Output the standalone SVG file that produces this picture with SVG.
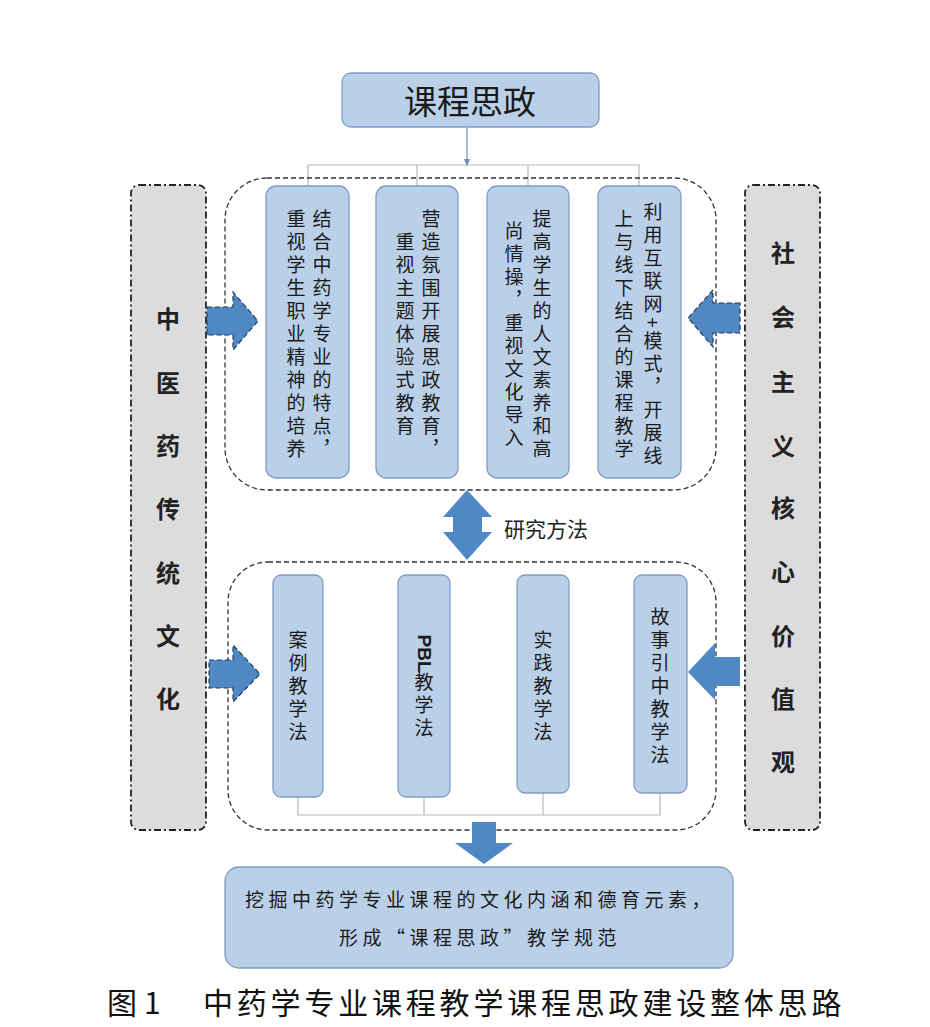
<svg xmlns="http://www.w3.org/2000/svg" width="930" height="1027" viewBox="0 0 930 1027">
<defs>
<style>
.bg{fill:#ffffff}
.blue{fill:#bad0e8;stroke:#7f9cc3;stroke-width:1.3}
.gray{fill:#dcdcdc;stroke:#222;stroke-width:1.8;stroke-dasharray:7 3 2 3}
.cont{fill:none;stroke:#333;stroke-width:1.3;stroke-dasharray:5 3}
.arr{fill:#5088c6}
.arrd{fill:#5088c6;stroke:#2a3a55;stroke-width:1.2;stroke-dasharray:5 3}
.ln{stroke:#b8b8b8;stroke-width:1.2;fill:none}
.vt{font-family:"Noto Sans CJK SC","Noto Sans CJK JP",sans-serif;font-size:19px;fill:#1a1a1a;writing-mode:vertical-rl;letter-spacing:4px;text-anchor:middle;dominant-baseline:central}
.gt{font-family:"Noto Sans CJK SC",sans-serif;font-size:24px;font-weight:bold;fill:#222;text-anchor:middle}
</style>
<marker id="ah" markerWidth="8" markerHeight="8" refX="4" refY="4" orient="auto" markerUnits="userSpaceOnUse">
<path d="M0,1 L8,4 L0,7 Z" fill="#6e8db8"/>
</marker>
</defs>
<rect class="bg" x="0" y="0" width="930" height="1027"/>

<g id="connectors">
<line x1="467" y1="127" x2="467" y2="163" stroke="#6e8db8" stroke-width="1.2" marker-end="url(#ah)"/>
<polyline class="ln" points="308,186 308,165 639,165 639,186"/>
<line class="ln" x1="417" y1="165" x2="417" y2="186"/>
<line class="ln" x1="528" y1="165" x2="528" y2="186"/>
<polyline class="ln" points="298,797 298,815 660,815 660,793"/>
<line class="ln" x1="424" y1="797" x2="424" y2="815"/>
<line class="ln" x1="543" y1="793" x2="543" y2="815"/>
</g>

<g id="top">
<rect class="blue" x="342" y="73" width="257" height="54" rx="9"/>
<text x="470" y="114" font-family="Noto Sans CJK SC,sans-serif" font-size="33" fill="#1a1a1a" text-anchor="middle">课程思政</text>
</g>

<g id="container-upper"><rect class="cont" x="225" y="178" width="491" height="312" rx="42"/></g>
<g id="container-lower"><rect class="cont" x="228" y="562" width="488" height="268" rx="40"/></g>

<g id="left-culture">
<rect class="gray" x="131" y="185" width="75" height="645" rx="8"/>
<text class="gt" x="168" y="328">中</text>
<text class="gt" x="168" y="392">医</text>
<text class="gt" x="168" y="455">药</text>
<text class="gt" x="168" y="518">传</text>
<text class="gt" x="168" y="582">统</text>
<text class="gt" x="168" y="645">文</text>
<text class="gt" x="168" y="708">化</text>
</g>

<g id="right-values">
<rect class="gray" x="745" y="185" width="75" height="645" rx="8"/>
<text class="gt" x="783" y="262">社</text>
<text class="gt" x="783" y="326">会</text>
<text class="gt" x="783" y="391">主</text>
<text class="gt" x="783" y="455">义</text>
<text class="gt" x="783" y="517">核</text>
<text class="gt" x="783" y="581">心</text>
<text class="gt" x="783" y="645">价</text>
<text class="gt" x="783" y="708">值</text>
<text class="gt" x="783" y="771">观</text>
</g>

<g id="u1">
<rect class="blue" x="266" y="186" width="83" height="292" rx="10"/>
<text class="vt" x="322" y="336">结合中药学专业的特点，</text>
<text class="vt" x="296" y="336">重视学生职业精神的培养</text>
</g>
<g id="u2">
<rect class="blue" x="376" y="186" width="82" height="292" rx="10"/>
<text class="vt" x="431" y="336">营造氛围开展思政教育，</text>
<text class="vt" x="405" y="336">重视主题体验式教育</text>
</g>
<g id="u3">
<rect class="blue" x="487" y="186" width="82" height="292" rx="10"/>
<text class="vt" x="542" y="336">提高学生的人文素养和高</text>
<text class="vt" x="514" y="336">尚情操，重视文化导入</text>
</g>
<g id="u4">
<rect class="blue" x="598" y="186" width="83" height="292" rx="10"/>
<text class="vt" x="653" y="336">利用互联网+模式，开展线</text>
<text class="vt" x="624" y="336">上与线下结合的课程教学</text>
</g>

<g id="l1">
<rect class="blue" x="273" y="575" width="50" height="222" rx="8"/>
<text class="vt" x="298" y="688">案例教学法</text>
</g>
<g id="l2">
<rect class="blue" x="398" y="575" width="52" height="222" rx="8"/>
<text class="vt" x="424" y="688"><tspan font-weight="bold" font-family="Liberation Sans,sans-serif" letter-spacing="0">PBL</tspan>教学法</text>
</g>
<g id="l3">
<rect class="blue" x="517" y="575" width="52" height="218" rx="8"/>
<text class="vt" x="543" y="688">实践教学法</text>
</g>
<g id="l4">
<rect class="blue" x="634" y="575" width="53" height="218" rx="8"/>
<text class="vt" x="660" y="688">故事引中教学法</text>
</g>

<g id="arrows">
<polygon class="arrd" points="207,307 233,307 233,292 258,321 233,350 233,335 207,335"/>
<polygon class="arrd" points="740,303 713,303 713,290 688,318 713,347 713,333 740,333"/>
<polygon class="arrd" points="209,660 233,660 233,645 260,674 233,702 233,688 209,688"/>
<polygon class="arr" points="740,657 715,657 715,643 688,672 715,700 715,686 740,686"/>
<polygon class="arr" points="467,490 492,517 482,517 482,532 492,532 467,560 443,532 453,532 453,517 443,517"/>
<polygon class="arr" points="472,822 496,822 496,843 513,843 484,864 455,843 472,843"/>
</g>

<g id="method-label">
<text x="504" y="537" font-family="Noto Sans CJK SC,sans-serif" font-size="21" fill="#222">研究方法</text>
</g>

<g id="bottom">
<rect class="blue" x="225" y="867" width="508" height="101" rx="14"/>
<text x="480" y="907" font-family="Noto Sans CJK SC,sans-serif" font-size="19" letter-spacing="4.5" fill="#1a1a1a" text-anchor="middle">挖掘中药学专业课程的文化内涵和德育元素，</text>
<text x="480" y="945" font-family="Noto Sans CJK SC,sans-serif" font-size="19" letter-spacing="4.5" fill="#1a1a1a" text-anchor="middle">形成“课程思政”教学规范</text>
</g>

<g id="caption">
<text x="107" y="1014" font-family="Noto Sans CJK SC,sans-serif" font-size="30" fill="#111">图</text>
<text x="144" y="1014" font-family="Noto Sans CJK SC,sans-serif" font-size="30" fill="#111">1</text>
<text x="203" y="1014" font-family="Noto Sans CJK SC,sans-serif" font-size="30" letter-spacing="3.8" fill="#111">中药学专业课程教学课程思政建设整体思路</text>
</g>
</svg>
